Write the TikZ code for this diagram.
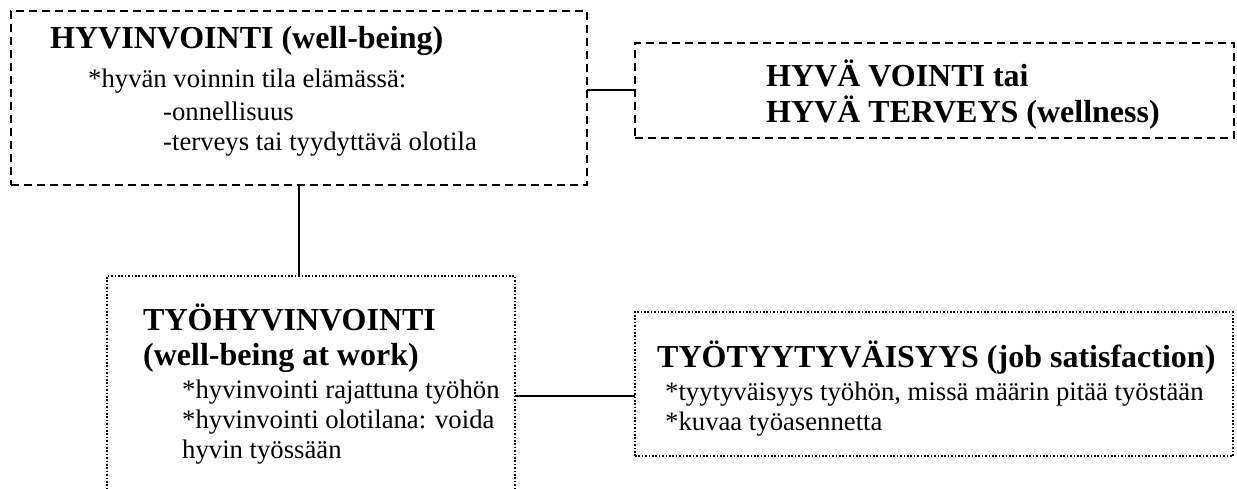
\documentclass[tikz,border=0pt]{standalone}
\usepackage{fontspec}
\setmainfont{Liberation Serif}
\tikzset{
  x=1pt, y=-1pt,
  dashbox/.style={draw=black, line width=2pt, dash pattern=on 8pt off 5pt, inner sep=0pt, outer sep=0pt, anchor=north west},
  dotbox/.style={draw=black, line width=1.8pt, dash pattern=on 1.6pt off 1.8pt, inner sep=0pt, outer sep=0pt, anchor=north west},
  conn/.style={draw=black, line width=2pt},
  ttl/.style={anchor=base west, inner sep=0pt, font=\fontsize{32}{36}\selectfont\bfseries},
  bdy/.style={anchor=base west, inner sep=0pt, font=\fontsize{26.7}{31}\selectfont},
}
\begin{document}
\begin{tikzpicture}
\clip (0,0) rectangle (1237,488);
\useasboundingbox (0,0) rectangle (1237,488);
% boxes
\node[dashbox, minimum width=576pt, minimum height=174pt] (b1) at (11,11) {};
\node[dashbox, minimum width=599pt, minimum height=95pt] (b2) at (635,43) {};
\node[dotbox, minimum width=408pt, minimum height=220pt] (b3) at (107,276) {};
\node[dotbox, minimum width=598pt, minimum height=144pt] (b4) at (635,312) {};
% texts box 1
\node[ttl] (t1a) at (50,48) {HYVINVOINTI (well-being)};
\node[bdy] (t1b) at (88,87) {*hyvän voinnin tila elämässä:};
\node[bdy] (t1c) at (163,120) {-onnellisuus};
\node[bdy] (t1d) at (163,150) {-terveys tai tyydyttävä olotila};
% texts box 2
\node[ttl] (t2a) at (766,86) {HYVÄ VOINTI tai};
\node[ttl] (t2b) at (766,122) {HYVÄ TERVEYS (wellness)};
% texts box 3
\node[ttl] (t3a) at (143,330) {TYÖHYVINVOINTI};
\node[ttl] (t3b) at (143,365) {(well-being at work)};
\node[bdy] (t3c) at (182,398) {*hyvinvointi rajattuna työhön};
\node[bdy] (t3d) at (182,428) {*hyvinvointi olotilana: voida};
\node[bdy] (t3e) at (182,458) {hyvin työssään};
% texts box 4
\node[ttl] (t4a) at (657,367) {TYÖTYYTYVÄISYYS (job satisfaction)};
\node[bdy] (t4b) at (665,400) {*tyytyväisyys työhön, missä määrin pitää työstään};
\node[bdy] (t4c) at (665,430) {*kuvaa työasennetta};
% connectors
\coordinate (c12) at (0,90);
\coordinate (c13) at (299,0);
\coordinate (c34) at (0,396);
\draw[conn] (b1.east |- c12) -- (b2.west |- c12);
\draw[conn] (b1.south -| c13) -- (b3.north -| c13);
\draw[conn] (b3.east |- c34) -- (b4.west |- c34);
\end{tikzpicture}
\end{document}
